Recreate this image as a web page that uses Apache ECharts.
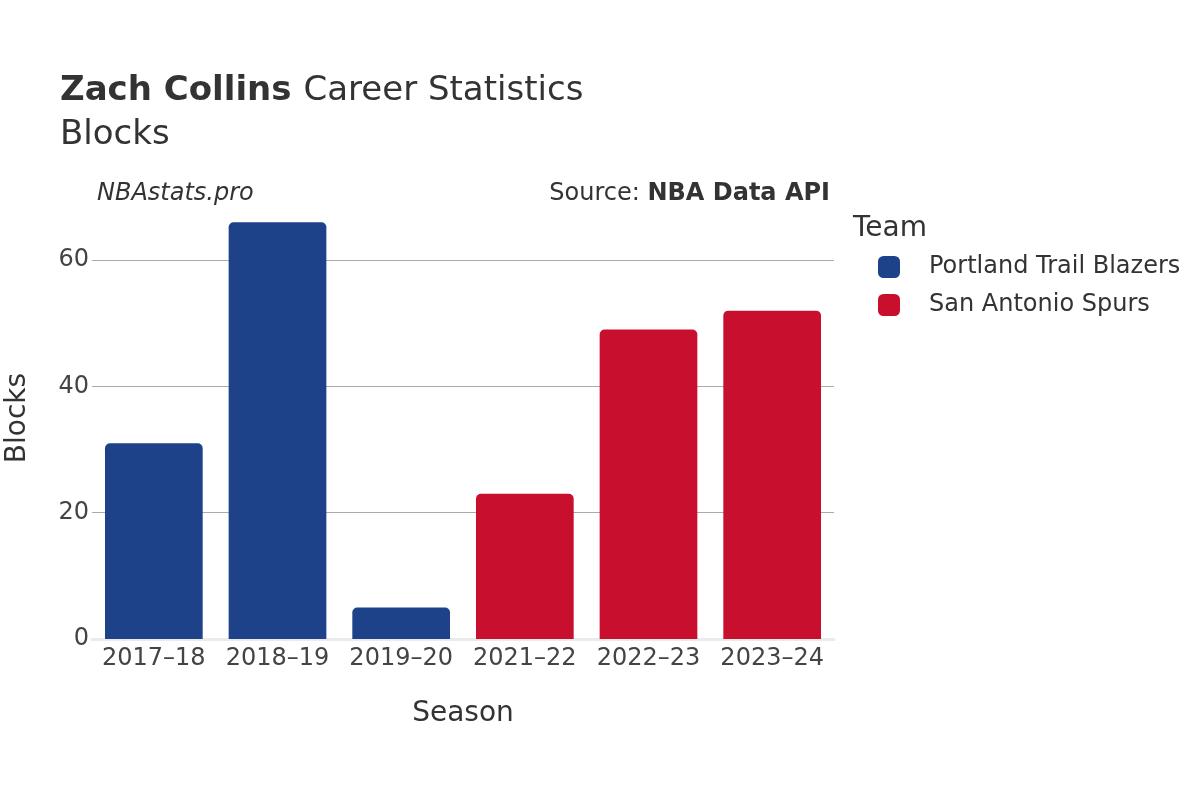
<!DOCTYPE html>
<html>
<head>
<meta charset="utf-8">
<script src="https://cdn.jsdelivr.net/npm/echarts@6/dist/echarts.min.js"></script>
<style>
  html, body { margin: 0; padding: 0; background: #fff; }
  #chart { width: 1200px; height: 800px; }
</style>
</head>
<body>
<div id="chart"></div>
<script>
var seasons = ['2017–18', '2018–19', '2019–20', '2021–22', '2022–23', '2023–24'];
var portlandBlocks = [31, 66, 5, null, null, null];
var spursBlocks = [null, null, null, 23, 49, 52];
var yTicks = [0, 20, 40, 60];

var font = 'DejaVu Sans';
var chart = echarts.init(document.getElementById('chart'));

var option = {
    animation: false,
    textStyle: { fontFamily: font },
    title: [
        {
            text: '{b|Zach Collins}{n|Career Statistics}',
            left: 60, top: 74, padding: 0,
            textStyle: {
                fontWeight: 'normal',
                rich: {
                    b: { fontFamily: font, fontSize: 34, fontWeight: 'bold', color: '#333' },
                    n: { fontFamily: font, fontSize: 34, fontWeight: 'normal', color: '#333', padding: [0, 0, 0, 12] }
                }
            }
        },
        {
            text: 'Blocks',
            left: 60, top: 118, padding: 0,
            textStyle: { fontFamily: font, fontSize: 34, fontWeight: 'normal', color: '#333' }
        },
        {
            text: 'NBAstats.pro',
            left: 97, top: 182, padding: 0,
            textStyle: { fontFamily: font, fontSize: 24, fontStyle: 'italic', fontWeight: 'normal', color: '#333' }
        },
        {
            text: '{n|Source: }{b|NBA Data API}',
            right: 370, top: 182, padding: 0,
            textStyle: {
                fontWeight: 'normal',
                rich: {
                    n: { fontFamily: font, fontSize: 24, fontWeight: 'normal', color: '#333' },
                    b: { fontFamily: font, fontSize: 24, fontWeight: 'bold', color: '#333' }
                }
            }
        },
        {
            text: 'Team',
            left: 853, top: 215, padding: 0,
            textStyle: { fontFamily: font, fontSize: 28, fontWeight: 'normal', color: '#333' }
        }
    ],
    legend: {
        orient: 'vertical',
        left: 878, top: 255, padding: 0,
        icon: 'roundRect',
        itemWidth: 22, itemHeight: 22,
        itemGap: 14,
        textStyle: { fontFamily: font, fontSize: 24, color: '#333', padding: [0, 0, 0, 24] },
        data: ['Portland Trail Blazers', 'San Antonio Spurs']
    },
    grid: { left: 92, right: 366, top: 197, bottom: 161, outerBoundsMode: 'none' },
    xAxis: {
        type: 'category',
        data: seasons,
        name: 'Season',
        nameLocation: 'middle',
        nameGap: 61,
        nameTextStyle: { fontFamily: font, fontSize: 28, color: '#333' },
        axisLine: { show: true, lineStyle: { color: '#ebebeb', width: 3 } },
        axisTick: { show: false },
        axisLabel: { fontFamily: font, fontSize: 24, color: '#444', margin: 8, interval: 0 }
    },
    yAxis: {
        type: 'value',
        min: 0, max: 70, interval: 20,
        name: 'Blocks',
        nameLocation: 'middle',
        nameGap: 60,
        nameTextStyle: { fontFamily: font, fontSize: 28, color: '#333' },
        axisLine: { show: false },
        axisTick: { show: false },
        axisLabel: {
            fontFamily: font, fontSize: 24, color: '#444', margin: 3,
            showMaxLabel: false,
            formatter: function (v) { return yTicks.indexOf(v) >= 0 ? String(v) : ''; }
        },
        splitLine: { show: true, showMaxLine: false, lineStyle: { color: '#aaaaaa', width: 1 } }
    },
    series: [
        {
            name: 'Portland Trail Blazers',
            type: 'bar',
            stack: 'team',
            barWidth: '79%',
            data: portlandBlocks,
            itemStyle: { color: '#1d428a', borderRadius: [5, 5, 0, 0] }
        },
        {
            name: 'San Antonio Spurs',
            type: 'bar',
            stack: 'team',
            barWidth: '79%',
            data: spursBlocks,
            itemStyle: { color: '#c8102e', borderRadius: [5, 5, 0, 0] }
        }
    ]
};

chart.setOption(option);
window.onresize = chart.resize;
</script>
</body>
</html>
